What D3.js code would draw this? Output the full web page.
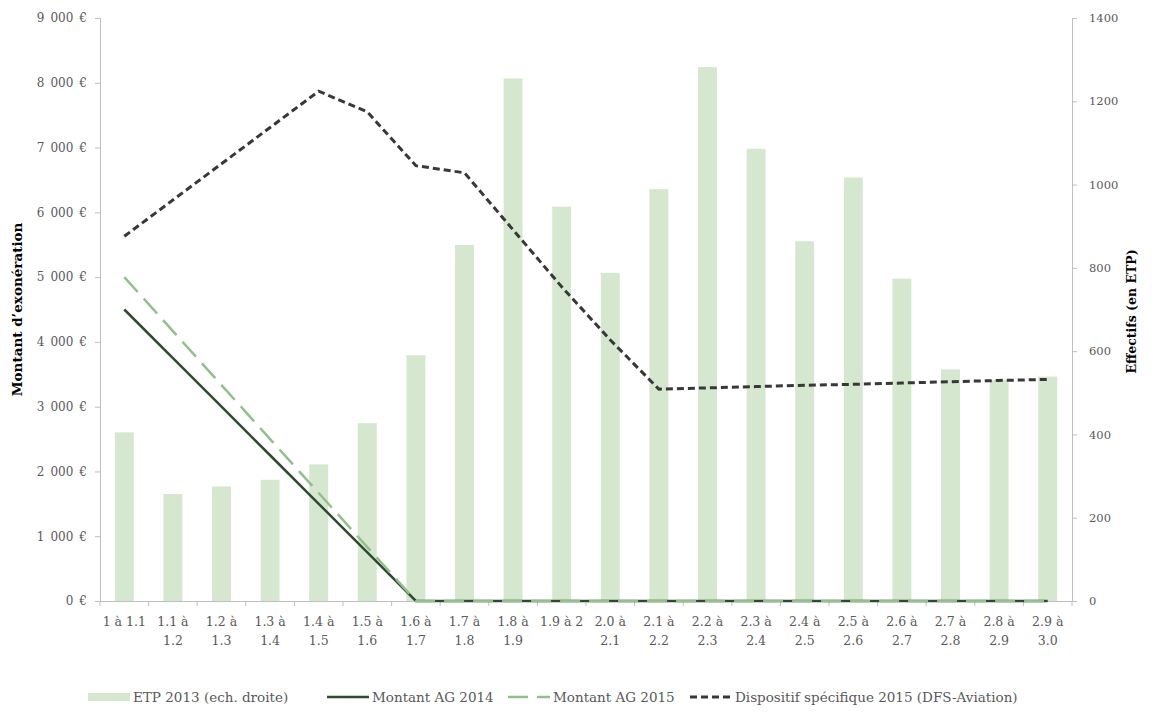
<!DOCTYPE html>
<html>
<head>
<meta charset="utf-8">
<script src="https://cdn.jsdelivr.net/npm/d3@7"></script>
<style>
  html, body { margin: 0; padding: 0; background: #fff; }
  svg { display: block; }
  text { font-family: "DejaVu Serif", "Liberation Serif", serif; }
</style>
</head>
<body>
<svg id="chart" width="1152" height="714"></svg>
<script>
// ---- data ----
const categories = ["1 à 1.1","1.1 à\n1.2","1.2 à\n1.3","1.3 à\n1.4","1.4 à\n1.5","1.5 à\n1.6","1.6 à\n1.7","1.7 à\n1.8","1.8 à\n1.9","1.9 à 2","2.0 à\n2.1","2.1 à\n2.2","2.2 à\n2.3","2.3 à\n2.4","2.4 à\n2.5","2.5 à\n2.6","2.6 à\n2.7","2.7 à\n2.8","2.8 à\n2.9","2.9 à\n3.0"];
const etp2013 = [405, 257, 275, 291, 328, 427, 590, 855, 1255, 947, 788, 989, 1282, 1086, 864, 1017, 774, 556, 531, 539];
const montantAG2014 = [4500, 3750, 3000, 2250, 1500, 750, 0, 0, 0, 0, 0, 0, 0, 0, 0, 0, 0, 0, 0, 0];
const montantAG2015 = [5000, 4167, 3333, 2500, 1667, 833, 0, 0, 0, 0, 0, 0, 0, 0, 0, 0, 0, 0, 0, 0];
const dfsAviation = [5630, 6190, 6750, 7310, 7870, 7550, 6720, 6610, 5730, 4850, 4030, 3270, 3290, 3310, 3330, 3345, 3365, 3385, 3405, 3420];
const leftTicks = [0, 1000, 2000, 3000, 4000, 5000, 6000, 7000, 8000, 9000];
const rightTicks = [0, 200, 400, 600, 800, 1000, 1200, 1400];
const seriesNames = ["ETP 2013 (ech. droite)", "Montant AG 2014", "Montant AG 2015", "Dispositif spécifique 2015 (DFS-Aviation)"];
const leftTitle = "Montant d’exonération";
const rightTitle = "Effectifs (en ETP)";

// ---- layout ----
const L = 100, R = 1072, T = 18, B = 601;
const svg = d3.select("#chart");
const axisColor = "#bfbfbf", textColor = "#595959";
const barColor = "#d5e8cf", ag14Color = "#2f4a2f", ag15Color = "#92bf8c", dfsColor = "#383838";

const x = d3.scaleBand().domain(categories).range([L, R]).paddingInner(0.61).paddingOuter(0.305);
const step = x.step();
const cx = c => x(c) + x.bandwidth() / 2;
const yL = d3.scaleLinear().domain([0, 9000]).range([B, T]);
const yR = d3.scaleLinear().domain([0, 1400]).range([B, T]);

// bars
svg.append("g").selectAll("rect").data(categories).join("rect")
  .attr("x", d => x(d)).attr("width", x.bandwidth())
  .attr("y", (d, i) => yR(etp2013[i])).attr("height", (d, i) => B - yR(etp2013[i]))
  .attr("fill", barColor);

// axes
const fmtEuro = d => d3.format(",")(d).replace(/,/g, "\u2002") + "\u2002€";
const gl = svg.append("g").attr("transform", `translate(${L},0)`)
  .call(d3.axisLeft(yL).tickValues(leftTicks).tickFormat(fmtEuro).tickSize(5).tickPadding(8));
const gr = svg.append("g").attr("transform", `translate(${R},0)`)
  .call(d3.axisRight(yR).tickValues(rightTicks).tickFormat(d3.format("d")).tickSize(5).tickPadding(12));
[gl, gr].forEach(g => {
  g.select(".domain").attr("stroke", axisColor);
  g.selectAll(".tick line").attr("stroke", axisColor);
  g.selectAll(".tick text").attr("fill", textColor).style("font-family", "DejaVu Serif");
});
gl.selectAll(".tick text").style("font-size", "12px");
gr.selectAll(".tick text").style("font-size", "11.5px");

// x axis
const gx = svg.append("g").attr("transform", `translate(0,${B})`)
  .call(d3.axisBottom(x).tickSize(0).tickPadding(8).tickFormat(""));
gx.select(".domain").attr("stroke", axisColor);
gx.selectAll(".tick").each(function(d) {
  const t = d3.select(this).append("text").attr("fill", textColor)
    .style("font-family", "DejaVu Serif").style("font-size", "12.5px")
    .attr("text-anchor", "middle").attr("y", 25);
  d.split("\n").forEach((line, k) => {
    t.append("tspan").attr("x", 0).attr("dy", k === 0 ? 0 : 19).text(line);
  });
});
svg.append("g").selectAll("line").data(d3.range(categories.length + 1)).join("line")
  .attr("x1", k => L + k * step).attr("x2", k => L + k * step)
  .attr("y1", B).attr("y2", B + 5).attr("stroke", axisColor);

// lines
const lineL = d3.line().x((d, i) => cx(categories[i])).y(d => yL(d));
svg.append("path").datum(montantAG2014).attr("d", lineL)
  .attr("fill", "none").attr("stroke", ag14Color).attr("stroke-width", 2.5);
svg.append("path").datum(montantAG2015).attr("d", lineL)
  .attr("fill", "none").attr("stroke", ag15Color).attr("stroke-width", 2.5).attr("stroke-dasharray", "20,9");
svg.append("path").datum(dfsAviation).attr("d", lineL)
  .attr("fill", "none").attr("stroke", dfsColor).attr("stroke-width", 3).attr("stroke-dasharray", "7,4");

// axis titles
svg.append("text").attr("transform", `translate(22,${(T + B) / 2}) rotate(-90)`)
  .attr("text-anchor", "middle").style("font-size", "13.5px").style("font-weight", "bold")
  .attr("fill", "#000").text(leftTitle);
svg.append("text").attr("transform", `translate(1136,${(T + B) / 2 + 2}) rotate(-90)`)
  .attr("text-anchor", "middle").style("font-size", "12.5px").style("font-weight", "bold")
  .attr("fill", "#000").text(rightTitle);

// legend
const ly = 697;
const lg = svg.append("g").style("font-size", "13.5px");
const items = [
  {x: 88, type: "bar"},
  {x: 327, type: "line", color: ag14Color, dash: null, w: 2.5},
  {x: 508, type: "line", color: ag15Color, dash: "20,9", w: 2.5},
  {x: 690, type: "line", color: dfsColor, dash: "7,4", w: 3}
];
items.forEach((it, i) => {
  if (it.type === "bar") {
    lg.append("rect").attr("x", it.x).attr("y", ly - 4).attr("width", 42).attr("height", 8).attr("fill", barColor);
  } else {
    lg.append("line").attr("x1", it.x).attr("x2", it.x + 42).attr("y1", ly).attr("y2", ly)
      .attr("stroke", it.color).attr("stroke-width", it.w).attr("stroke-dasharray", it.dash);
  }
  lg.append("text").attr("x", it.x + 45).attr("y", ly + 5).attr("fill", textColor).text(seriesNames[i]);
});
</script>
</body>
</html>
